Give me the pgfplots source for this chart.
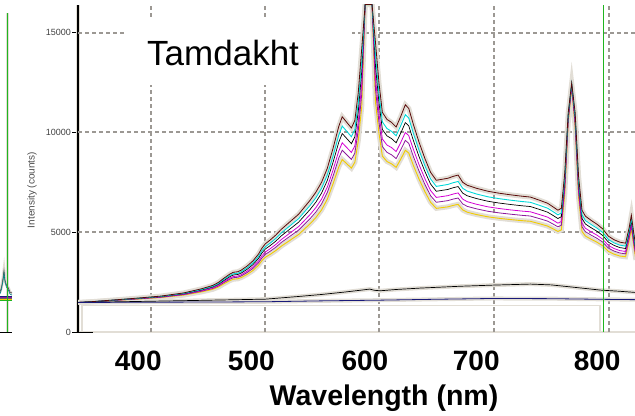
\documentclass[border=0pt]{standalone}
\usepackage{pgfplots}
\pgfplotsset{compat=1.18}
\usepackage{pgfplotstable}
\usepackage{fontspec}
\setmainfont{Liberation Sans}
\definecolor{halo}{HTML}{E2DED6}
\definecolor{gridc}{HTML}{9C9893}
\definecolor{brownc}{HTML}{5A0A0A}
\definecolor{cyanc}{HTML}{00D8D8}
\definecolor{magc}{HTML}{D400D4}
\definecolor{purc}{HTML}{8C1A9C}
\definecolor{yelc}{HTML}{F2CC00}
\definecolor{navyc}{HTML}{1A1A7A}
\definecolor{greenc}{HTML}{1FB51F}

\pgfplotstableread{
x T C K M P Y
348 1480 1480 1480 1480 1480 1480
360 1520 1518 1516 1514 1513 1511
380 1610 1604 1598 1592 1587 1580
400 1700 1689 1680 1669 1660 1649
420 1800 1784 1771 1755 1742 1726
440 1960 1936 1917 1893 1874 1850
455 2160 2126 2099 2065 2038 2004
465 2330 2288 2254 2211 2177 2135
470 2480 2430 2390 2340 2300 2250
475 2700 2639 2590 2529 2480 2419
480 2900 2829 2772 2701 2644 2573
483 2990 2915 2854 2779 2718 2643
487 3020 2943 2881 2804 2743 2666
490 3100 3019 2954 2873 2808 2727
495 3300 3209 3136 3045 2972 2881
500 3550 3447 3364 3260 3177 3074
505 3900 3779 3682 3561 3464 3343
508 4200 4064 3955 3819 3710 3574
511 4420 4273 4155 4008 3891 3744
515 4600 4444 4319 4163 4038 3882
520 4850 4682 4547 4378 4243 4075
525 5150 4967 4820 4636 4489 4306
530 5400 5204 5047 4851 4694 4498
535 5650 5442 5275 5066 4899 4691
540 5900 5679 5502 5281 5104 4883
545 6250 6012 5821 5582 5391 5153
550 6600 6344 6139 5883 5678 5422
555 7000 6724 6503 6227 6006 5730
560 7500 7199 6958 6657 6416 6115
565 8200 7864 7595 7259 6990 6654
570 9200 8814 8505 8119 7810 7424
575 10300 9859 9506 9065 8712 8271
578 10780 10315 9943 9478 9106 8641
582 10500 10049 9688 9237 8876 8425
586 10220 9783 9433 8996 8647 8210
589 10600 10144 9779 9323 8958 8502
592 12000 11474 11053 10527 10106 9580
595 14200 13564 13055 12419 11910 11274
598 16400 16400 16400 16400 16400 16400
604 16400 16400 16400 16400 16400 16400
607 14500 13849 13328 12677 12156 11505
610 12500 11949 11508 10957 10516 9965
613 11000 10524 10143 9667 9286 8810
617 10650 10192 9825 9366 8999 8541
621 10500 10049 9688 9237 8876 8425
625 10270 9831 9479 9039 8688 8248
629 10800 10334 9961 9495 9122 8656
633 11380 10885 10489 9994 9598 9103
636 11200 10714 10325 9839 9450 8964
640 10400 9954 9597 9151 8794 8348
645 9500 9099 8778 8377 8056 7655
650 8700 8339 8050 7689 7400 7039
655 8000 7674 7413 7087 6826 6500
660 7600 7294 7049 6743 6498 6192
665 7650 7342 7095 6786 6539 6231
670 7700 7389 7140 6829 6580 6269
675 7800 7484 7231 6915 6662 6346
679 7860 7541 7286 6967 6712 6393
683 7500 7199 6958 6657 6416 6115
687 7350 7057 6822 6528 6293 6000
695 7200 6914 6685 6399 6170 5884
705 7050 6772 6549 6270 6047 5769
715 6950 6677 6458 6184 5965 5692
725 6870 6601 6385 6115 5900 5630
735 6800 6534 6321 6055 5842 5576
742 6760 6496 6285 6021 5810 5546
750 6600 6344 6139 5883 5678 5422
757 6450 6202 6003 5754 5555 5307
762 6260 6021 5830 5591 5400 5161
766 6100 5869 5684 5453 5268 5037
769 6200 5964 5775 5539 5350 5114
772 8000 7770 7580 7350 7160 6930
775 11000 10900 10800 10700 10600 10500
778 12470 12440 12400 12350 12300 12250
781 11000 10850 10700 10550 10400 10250
784 7800 7570 7390 7160 6980 6750
787 6100 5869 5684 5453 5268 5037
790 5800 5584 5411 5195 5022 4806
795 5590 5385 5220 5015 4850 4645
800 5400 5204 5047 4851 4694 4498
805 5170 4986 4838 4653 4506 4321
810 4800 4634 4501 4335 4202 4036
815 4620 4463 4337 4180 4055 3898
820 4500 4349 4228 4077 3956 3805
825 4450 4302 4183 4034 3915 3767
828 5200 5054 4937 4791 4674 4528
830 5850 5704 5587 5441 5324 5178
832 5000 4854 4737 4591 4474 4328
834 4250 4112 3997 3862 3751 3613
}\upper

\pgfplotstableread{
x y
348 1480
400 1530
450 1580
511 1645
540 1780
560 1880
580 2000
595 2100
602 2150
606 2090
611 2065
625 2130
646 2200
680 2290
710 2350
742 2400
760 2360
776 2265
790 2180
803 2100
820 2040
834 1980
}\lowerK

\pgfplotstableread{
x y
348 1480
450 1500
511 1515
560 1560
611 1595
660 1640
710 1680
760 1670
800 1640
834 1620
}\lowerN

\begin{document}
\begin{tikzpicture}[x=1bp,y=1bp]
\useasboundingbox (0,0) rectangle (635,415);

% partial neighbouring panel at the left edge
\begin{axis}[at={(0bp,83bp)}, anchor=south west, scale only axis,
  width=12bp, height=327bp, xmin=0, xmax=12, ymin=0, ymax=16380,
  axis x line=bottom, axis y line=none, axis line style={-},
  x axis line style={black, line width=1bp},
  xtick=\empty, ytick={5000,10000,15000}, yticklabels={},
  major tick length=0, ymajorgrids,
  grid style={gridc, line width=2bp, dash pattern=on 4bp off 3bp}]
\addplot[halo, line width=3bp] coordinates {(0,2000) (1.5,2250) (3,2700) (4,3100) (5,2600) (6.5,2350) (8,2250) (10,2000) (12,1950)};
\addplot[halo, line width=5bp] coordinates {(0,1675) (12,1675)};
\addplot[halo, line width=3bp] coordinates {(7.3,0) (7.3,16000)};
\addplot[black!70, line width=0.6bp] coordinates {(0,2000) (1.5,2250) (3,2700) (4,3100) (5,2600) (6.5,2350) (8,2250) (10,2000) (12,1950)};
\addplot[teal, line width=0.6bp] coordinates {(0,1900) (1.5,2150) (3,2550) (4,2950) (5,2500) (6.5,2250) (8,2150) (10,1900) (12,1850)};
\addplot[navyc, line width=0.7bp] coordinates {(0,1780) (12,1780)};
\addplot[purc, line width=0.7bp] coordinates {(0,1730) (12,1730)};
\addplot[black!60, line width=0.7bp] coordinates {(0,1680) (12,1680)};
\addplot[yelc, line width=0.9bp] coordinates {(0,1630) (12,1630)};
\addplot[greenc, line width=0.7bp] coordinates {(0,1580) (12,1580)};
\addplot[greenc, line width=1bp] coordinates {(7.3,0) (7.3,16000)};
\end{axis}

% main panel
\begin{axis}[at={(78bp,83bp)}, anchor=south west, scale only axis,
  width=557bp, height=327bp,
  xmin=347.7, xmax=833.2, ymin=0, ymax=16380,
  axis x line=bottom, axis y line=left, axis line style={-},
  x axis line style={halo, line width=1.5bp},
  y axis line style={black, line width=1.1bp, preaction={draw=halo, line width=3.5bp}},
  tick align=outside, major tick length=6bp,
  xtick={400.2,498.8,597.8,694.8,800.2},
  xticklabels={400,500,600,700,800},
  x tick style={draw=none},
  xticklabel style={font=\fontsize{28bp}{30bp}\selectfont\bfseries, inner sep=0pt, anchor=north, yshift=-13bp},
  extra x ticks={411.3,511.0,610.3,710.5,810.1},
  extra x tick labels={},
  extra x tick style={grid=major, tick style={draw=none}},
  ytick={0,5000,10000,15000},
  y tick style={black, line width=0.8bp},
  yticklabel style={font=\fontsize{9bp}{10bp}\selectfont, text=black!75, inner sep=1bp},
  extra y ticks={5000,10000,15000},
  extra y tick labels={},
  extra y tick style={grid=major, tick style={draw=none}},
  grid style={gridc, line width=2bp, dash pattern=on 4bp off 3bp},
  scaled y ticks=false,
  /pgf/number format/assume math mode=true,
  /pgf/number format/1000 sep={}]
% faint halo outline near the baseline
\addplot[halo, line width=1.5bp] coordinates {(351.2,0) (351.2,1330) (802.6,1330) (802.6,0)};
% halos
\addplot[halo, line width=5bp] table[x=x, y=T] {\upper};
\addplot[halo, line width=5bp] table[x=x, y=Y] {\upper};
\addplot[halo, line width=4bp] table[x=x, y=y] {\lowerK};
\addplot[halo, line width=4bp] table[x=x, y=y] {\lowerN};
% spectra
\addplot[yelc, line width=0.9bp] table[x=x, y=Y] {\upper};
\addplot[purc, line width=0.8bp] table[x=x, y=P] {\upper};
\addplot[magc, line width=0.8bp] table[x=x, y=M] {\upper};
\addplot[black, line width=0.7bp] table[x=x, y=K] {\upper};
\addplot[cyanc, line width=0.9bp] table[x=x, y=C] {\upper};
\addplot[brownc, line width=0.8bp] table[x=x, y=T] {\upper};
\addplot[black, line width=0.7bp] table[x=x, y=y] {\lowerK};
\addplot[navyc, line width=0.8bp] table[x=x, y=y] {\lowerN};
% cursor
\addplot[greenc, line width=1.1bp] coordinates {(805.5,0) (805.5,16380)};
\end{axis}

\draw[black, line width=1bp] (73,83) -- (93,83);
\fill[white] (127,330) rectangle (352,397);
\node[anchor=base west, inner sep=0pt, font=\fontsize{35bp}{40bp}\selectfont] at (147,350) {Tamdakht};
\node[rotate=90, inner sep=0pt, text=black!70, font=\fontsize{10bp}{12bp}\selectfont] at (32,225) {Intensity (counts)};
\node[anchor=base, inner sep=0pt, font=\fontsize{28.5bp}{32bp}\selectfont\bfseries] at (384,10) {Wavelength (nm)};
\end{tikzpicture}
\end{document}
